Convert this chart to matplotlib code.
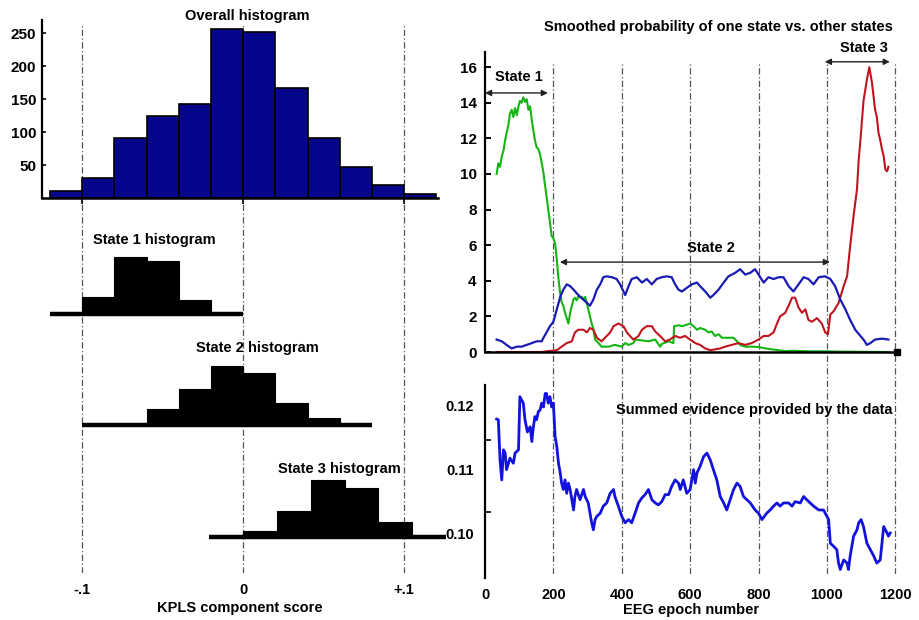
import numpy as np
import matplotlib
matplotlib.use("Agg")
import matplotlib.pyplot as plt

plt.rcParams['font.family'] = ['Liberation Sans', 'DejaVu Sans']
plt.rcParams['font.weight'] = 'bold'
plt.rcParams['font.size'] = 10.5

# ---------------- data ----------------
overall_edges = [-1.2, -1.0, -0.8, -0.6, -0.4, -0.2, 0.0, 0.2, 0.4, 0.6, 0.8, 1.0, 1.2]
overall_counts = [10, 31, 91, 124, 143, 256, 252, 167, 91, 47, 19, 6]

state1_edges = [-1.2, -1.0, -0.8, -0.6, -0.4, -0.2, 0.0]
state1_counts = [0, 26, 86, 80, 21, 0]
state2_edges = [-1.0, -0.8, -0.6, -0.4, -0.2, 0.0, 0.2, 0.4, 0.6, 0.8]
state2_counts = [0, 2, 24, 55, 89, 79, 33, 11, 0]
state3_edges = [-0.21, 0.0, 0.21, 0.42, 0.63, 0.84, 1.05, 1.26]
state3_counts = [0, 9, 39, 86, 74, 23, 0]

score_ticks = [-1, 0, 1]
score_labels = ['-.1', '0', '+.1']

green_epoch = [34, 39, 44, 49, 54, 59, 63, 68, 73, 78, 83, 88, 93, 98, 102, 107, 112, 117,
               122, 127, 132, 137, 141, 146, 151, 156, 161, 166, 171, 176, 181, 185, 190,
               195, 200, 205, 210, 215, 220, 224, 229, 234, 244, 249, 254, 259, 263, 268,
               273, 283, 288, 293, 302, 312, 317, 322, 332, 341, 361, 380, 400, 410, 420,
               434, 439, 459, 478, 498, 512, 517, 537, 551, 553, 566, 576, 585, 600, 610,
               620, 629, 644, 654, 663, 673, 683, 693, 712, 727, 737, 746, 761, 780, 800,
               820, 839, 859, 878, 898, 946, 995, 1044, 1180]
green_prob = [10.0, 10.6, 10.4, 11.0, 11.3, 11.9, 12.3, 12.7, 13.4, 13.6, 13.2, 13.7, 13.3,
              13.8, 14.1, 14.0, 14.3, 14.05, 14.2, 13.6, 13.8, 13.0, 12.5, 11.9, 11.5, 11.4,
              11.1, 10.6, 10.05, 9.3, 8.6, 8.0, 7.3, 6.5, 6.4, 6.1, 5.2, 4.1, 3.3, 2.8, 2.6,
              2.2, 1.6, 2.2, 2.6, 2.95, 3.05, 2.9, 3.1, 3.1, 2.95, 3.1, 2.4, 1.6, 1.3, 0.7,
              0.5, 0.3, 0.3, 0.4, 0.3, 0.5, 0.4, 0.5, 0.7, 0.65, 0.6, 0.7, 0.3, 0.45, 0.6,
              0.5, 1.45, 1.5, 1.45, 1.5, 1.6, 1.45, 1.25, 1.35, 1.25, 1.1, 1.15, 0.9, 1.0,
              0.8, 0.8, 0.8, 0.6, 0.4, 0.3, 0.3, 0.28, 0.2, 0.15, 0.1, 0.05, 0.07, 0.04,
              0.04, 0.02, 0.0]

blue_epoch = [34, 49, 63, 78, 93, 107, 122, 137, 151, 166, 171, 180, 190, 200, 210, 220, 229,
              239, 249, 259, 268, 278, 293, 307, 317, 327, 337, 346, 356, 371, 385, 395, 405,
              410, 420, 429, 444, 459, 473, 488, 502, 517, 532, 546, 556, 566, 576, 590, 605,
              620, 629, 644, 659, 668, 683, 698, 712, 732, 746, 761, 776, 790, 805, 815, 829,
              844, 859, 873, 888, 902, 917, 932, 946, 961, 976, 995, 1010, 1024, 1039, 1054,
              1068, 1083, 1098, 1107, 1117, 1127, 1141, 1161, 1180]
blue_prob = [0.7, 0.6, 0.4, 0.2, 0.3, 0.3, 0.4, 0.5, 0.6, 0.6, 0.8, 1.1, 1.45, 1.7, 2.4, 3.1,
             3.5, 3.8, 3.7, 3.5, 3.3, 3.1, 2.85, 2.6, 2.95, 3.5, 3.8, 4.2, 4.25, 4.2, 4.1, 3.8,
             3.4, 3.2, 3.7, 4.1, 4.2, 3.9, 4.1, 3.8, 4.1, 4.2, 4.25, 4.2, 3.8, 3.5, 3.4, 3.6,
             3.8, 3.9, 3.7, 3.4, 3.05, 3.2, 3.5, 3.9, 4.25, 4.45, 4.65, 4.35, 4.45, 4.65, 4.2,
             3.9, 4.2, 4.1, 4.2, 4.2, 3.7, 3.4, 3.8, 4.2, 4.1, 3.8, 4.2, 4.25, 4.1, 3.7, 2.95,
             2.4, 1.8, 1.25, 0.9, 0.7, 0.4, 0.5, 0.7, 0.75, 0.7]

red_epoch = [34, 166, 185, 210, 224, 239, 254, 263, 273, 288, 298, 307, 317, 327, 341, 356,
             366, 376, 390, 405, 415, 424, 434, 449, 459, 473, 488, 498, 512, 527, 541, 556,
             571, 585, 600, 615, 629, 644, 659, 673, 688, 702, 722, 741, 761, 780, 800, 815,
             829, 844, 854, 863, 878, 888, 898, 907, 917, 927, 937, 946, 956, 971, 985, 995,
             1003, 1010, 1020, 1034, 1049, 1059, 1068, 1078, 1088, 1093, 1098, 1107, 1117,
             1124, 1132, 1141, 1146, 1151, 1156, 1161, 1166, 1171, 1176, 1180]
red_prob = [0.0, 0.0, 0.05, 0.1, 0.3, 0.5, 0.6, 1.1, 1.25, 1.25, 1.1, 1.35, 1.25, 0.8, 0.6,
            0.9, 1.1, 1.45, 1.6, 1.45, 1.1, 0.9, 0.7, 0.9, 1.25, 1.45, 1.45, 1.15, 0.9, 0.6,
            0.7, 0.9, 0.8, 0.9, 0.7, 0.5, 0.4, 0.2, 0.1, 0.15, 0.2, 0.3, 0.4, 0.5, 0.4, 0.5,
            0.7, 0.9, 0.9, 1.1, 1.6, 2.0, 2.2, 2.6, 3.05, 3.05, 2.5, 2.2, 2.4, 1.8, 1.7, 1.9,
            1.6, 1.1, 1.0, 2.1, 2.3, 2.75, 3.7, 4.25, 5.95, 7.65, 9.15, 10.8, 11.9, 14.1,
            15.3, 16.0, 15.1, 13.6, 13.2, 12.3, 11.9, 11.4, 11.0, 10.25, 10.15, 10.4]

evid_epoch = [34, 39, 44, 49, 54, 59, 63, 73, 83, 88, 98, 102, 107, 112, 117, 124, 132, 137,
              141, 146, 151, 156, 161, 166, 171, 176, 180, 185, 190, 195, 200, 205, 210, 215,
              220, 224, 229, 234, 239, 244, 249, 254, 259, 263, 268, 278, 288, 293, 302, 312,
              317, 322, 327, 337, 346, 356, 366, 376, 380, 390, 400, 410, 420, 429, 439, 449,
              459, 468, 478, 488, 498, 507, 517, 527, 537, 546, 556, 566, 571, 580, 590, 600,
              610, 615, 620, 629, 639, 649, 659, 668, 678, 688, 698, 707, 717, 727, 737, 746,
              756, 766, 776, 790, 800, 810, 824, 834, 844, 854, 863, 873, 888, 898, 907, 922,
              932, 941, 951, 961, 976, 990, 1000, 1005, 1010, 1020, 1029, 1034, 1039, 1049,
              1059, 1063, 1068, 1078, 1088, 1093, 1100, 1107, 1117, 1127, 1137, 1146, 1156,
              1166, 1176, 1180, 1185]
evid_value = [0.1178, 0.1177, 0.1114, 0.1083, 0.1130, 0.1125, 0.1099, 0.1117, 0.1109, 0.1125,
              0.1130, 0.1213, 0.1208, 0.1203, 0.1177, 0.1158, 0.1166, 0.1143, 0.1164, 0.1182,
              0.1177, 0.1190, 0.1192, 0.1203, 0.1197, 0.1218, 0.1218, 0.1203, 0.1213, 0.1197,
              0.1203, 0.1151, 0.1135, 0.1109, 0.1094, 0.1078, 0.1068, 0.1083, 0.1062, 0.1078,
              0.1068, 0.1052, 0.1036, 0.1057, 0.1068, 0.1052, 0.1068, 0.1057, 0.1047, 0.1016,
              0.1005, 0.1021, 0.1026, 0.1031, 0.1042, 0.1047, 0.1062, 0.1068, 0.1057, 0.1042,
              0.1026, 0.1016, 0.1021, 0.1016, 0.1031, 0.1047, 0.1055, 0.1060, 0.1068, 0.1052,
              0.1047, 0.1044, 0.1049, 0.1060, 0.1060, 0.1073, 0.1083, 0.1078, 0.1068, 0.1083,
              0.1062, 0.1068, 0.1099, 0.1078, 0.1094, 0.1104, 0.1119, 0.1125, 0.1114, 0.1099,
              0.1083, 0.1057, 0.1047, 0.1036, 0.1052, 0.1068, 0.1078, 0.1073, 0.1057, 0.1052,
              0.1047, 0.1036, 0.1031, 0.1021, 0.1031, 0.1036, 0.1042, 0.1047, 0.1042, 0.1047,
              0.1047, 0.1042, 0.1049, 0.1047, 0.1057, 0.1052, 0.1047, 0.1042, 0.1036, 0.1036,
              0.1026, 0.1021, 0.0984, 0.0979, 0.0974, 0.0953, 0.0943, 0.0958, 0.0953, 0.0943,
              0.0964, 0.0995, 0.1005, 0.1016, 0.1021, 0.1010, 0.0984, 0.0974, 0.0964, 0.0953,
              0.0958, 0.1010, 0.1000, 0.0995, 0.1000]

epoch_ticks = [0, 200, 400, 600, 800, 1000, 1200]
prob_ticks = [0, 2, 4, 6, 8, 10, 12, 14, 16]
evid_ticks = [0.10, 0.11, 0.12]
evid_minor = [0.1033, 0.1145]

# state spans (epochs)
state1_span = (0, 184)
state2_span = (219, 1009)
state3_span = (994, 1184)

# ---------------- figure ----------------
W, H = 919, 620
fig = plt.figure(figsize=(W / 100, H / 100), dpi=100)


def px_axes(x0, y0, x1, y1, **kw):
    return fig.add_axes([x0 / W, 1 - y1 / H, (x1 - x0) / W, (y1 - y0) / H], **kw)


DASH = dict(color='#555555', lw=0.9, linestyles=(0, (5, 2, 1, 2)))
SCORE_LIM = (-1.25, 1.21)
EPOCH_LIM = (0, 1205)

# ----- left overlay with dash-dot guides and x labels -----
ovl = px_axes(42, 24, 438, 573, zorder=0)
ovl.set_xlim(*SCORE_LIM)
ovl.set_ylim(0, 1)
ovl.vlines(score_ticks, 0, 1, **DASH)
ovl.set_xticks(score_ticks)
ovl.set_xticklabels(score_labels, fontsize=10.5, fontweight='bold')
ovl.tick_params(axis='x', length=0, pad=7)
ovl.set_yticks([])
for s in ovl.spines.values():
    s.set_visible(False)
ovl.patch.set_visible(False)
ovl.set_xlabel('KPLS component score', fontsize=10.5, fontweight='bold', labelpad=3)

# ----- overall histogram -----
ax0 = px_axes(42, 20, 438, 198, zorder=2)
ax0.patch.set_visible(False)
ax0.bar(overall_edges[:-1], overall_counts, width=np.diff(overall_edges), align='edge',
        color='#06068c', edgecolor='black', linewidth=1.2)
ax0.set_xlim(*SCORE_LIM)
ax0.set_ylim(0, 270)
ax0.set_yticks([50, 100, 150, 200, 250])
ax0.set_xticks(score_ticks)
ax0.set_xticklabels([])
ax0.tick_params(axis='y', direction='in', length=3, width=1.2, labelsize=11, pad=4)
ax0.tick_params(axis='x', direction='out', length=4, width=1.2)
for lab in ax0.get_yticklabels():
    lab.set_fontweight('bold')
ax0.spines['top'].set_visible(False)
ax0.spines['right'].set_visible(False)
ax0.spines['left'].set_linewidth(1.6)
ax0.spines['bottom'].set_linewidth(1.8)
fig.text(247 / W, 1 - 16 / H, 'Overall histogram', ha='center', va='center',
         fontsize=10.5, fontweight='bold')

# ----- state histograms -----
states = [
    (state1_edges, state1_counts, 314, 'State 1 histogram', 154, 240),
    (state2_edges, state2_counts, 425, 'State 2 histogram', 257, 348),
    (state3_edges, state3_counts, 537, 'State 3 histogram', 339, 469),
]
for edges, counts, base, title, tx, ty in states:
    ax = px_axes(42, base - 66, 438, base, zorder=2)
    ax.patch.set_visible(False)
    ax.bar(edges[:-1], counts, width=np.diff(edges), align='edge',
           color='black', edgecolor='black', linewidth=0.8)
    ax.hlines(0, edges[0], edges[-1], color='black', lw=3.2, clip_on=False)
    ax.set_xlim(*SCORE_LIM)
    ax.set_ylim(0, 100)
    ax.axis('off')
    fig.text(tx / W, 1 - ty / H, title, ha='center', va='center',
             fontsize=10.5, fontweight='bold')

# ----- right overlay guides -----
ovr = px_axes(485, 63, 897, 574, zorder=0)
ovr.set_xlim(*EPOCH_LIM)
ovr.set_ylim(0, 1)
ovr.vlines(epoch_ticks[1:], 0, 1, **DASH)
ovr.axis('off')

# ----- top right: smoothed probabilities -----
ax1 = px_axes(485, 52, 897, 352, zorder=2)
ax1.patch.set_visible(False)
ax1.plot(green_epoch, green_prob, color='#14b414', lw=1.5)
ax1.plot(red_epoch, red_prob, color='#c0141e', lw=1.5)
ax1.plot(blue_epoch, blue_prob, color='#1a1ab4', lw=1.6)
ax1.set_xlim(*EPOCH_LIM)
ax1.set_ylim(0, 16.85)
ax1.set_yticks(prob_ticks)
ax1.set_xticks([])
ax1.tick_params(axis='y', direction='in', length=4, width=1.4, labelsize=11, pad=6)
for lab in ax1.get_yticklabels():
    lab.set_fontweight('bold')
ax1.spines['top'].set_visible(False)
ax1.spines['right'].set_visible(False)
ax1.spines['left'].set_linewidth(1.6)
ax1.spines['bottom'].set_linewidth(1.8)
ax1.plot([1], [0], marker='s', color='black', ms=4, transform=ax1.transAxes, clip_on=False)

arrow = dict(arrowstyle='<|-|>', color='#222222', lw=1.0, mutation_scale=9,
             shrinkA=0, shrinkB=0)
ax1.annotate('', xy=(state1_span[0], 14.55), xytext=(state1_span[1], 14.55), arrowprops=arrow,
             annotation_clip=False)
ax1.text(99, 15.45, 'State 1', ha='center', va='center', fontsize=10.5, fontweight='bold')
ax1.annotate('', xy=(state2_span[0], 5.05), xytext=(state2_span[1], 5.05), arrowprops=arrow,
             annotation_clip=False)
ax1.text(661, 5.85, 'State 2', ha='center', va='center', fontsize=10.5, fontweight='bold')
ax1.annotate('', xy=(state3_span[0], 16.3), xytext=(state3_span[1], 16.3), arrowprops=arrow,
             annotation_clip=False)
ax1.text(1108, 17.1, 'State 3', ha='center', va='center', fontsize=10.5, fontweight='bold',
         clip_on=False)
fig.text(718 / W, 1 - 27 / H, 'Smoothed probability of one state vs. other states',
         ha='center', va='center', fontsize=10.5, fontweight='bold')

# ----- bottom right: summed evidence -----
ax2 = px_axes(485, 385, 897, 578, zorder=2)
ax2.patch.set_visible(False)
ax2.plot(evid_epoch, evid_value, color='#1212dc', lw=2.0)
ax2.set_xlim(*EPOCH_LIM)
ax2.set_ylim(0.09297, 0.12313)
ax2.set_yticks(evid_ticks)
ax2.set_yticklabels(['%.2f' % v for v in evid_ticks])
ax2.set_yticks(evid_minor, minor=True)
ax2.tick_params(axis='y', which='major', length=0, labelsize=10.5, pad=8)
ax2.tick_params(axis='y', which='minor', direction='in', length=4, width=1.2)
ax2.set_xticks(epoch_ticks)
ax2.tick_params(axis='x', length=0, labelsize=10.5, pad=7)
for lab in ax2.get_yticklabels() + ax2.get_xticklabels():
    lab.set_fontweight('bold')
for side in ('top', 'right', 'bottom'):
    ax2.spines[side].set_visible(False)
ax2.spines['left'].set_linewidth(1.6)
ax2.set_xlabel('EEG epoch number', fontsize=10.5, fontweight='bold', labelpad=1)
fig.text(754 / W, 1 - 410 / H, 'Summed evidence provided by the data', ha='center',
         va='center', fontsize=10.5, fontweight='bold')

fig.savefig('out.png', dpi=100)
